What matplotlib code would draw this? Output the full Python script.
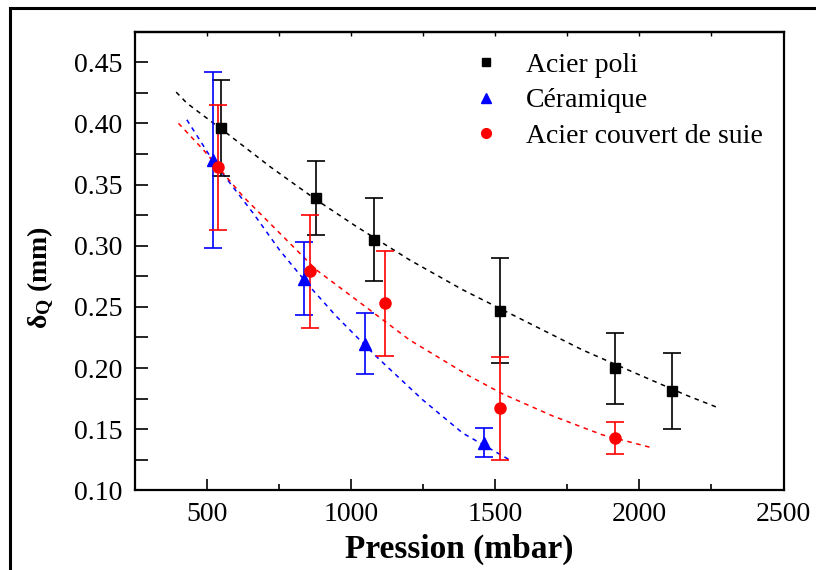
import matplotlib
matplotlib.use('Agg')
from matplotlib import pyplot as plt
from matplotlib.lines import Line2D
from matplotlib.patches import Rectangle

plt.rcParams['font.family'] = ['Liberation Serif', 'DejaVu Serif']
plt.rcParams['mathtext.fontset'] = 'custom'
plt.rcParams['mathtext.rm'] = 'Liberation Serif'
plt.rcParams['mathtext.bf'] = 'Liberation Serif:bold'
plt.rcParams['mathtext.it'] = 'Liberation Serif:italic'

# Acier poli (black squares)
poli_x = [547, 877, 1079, 1515, 1914, 2113]
poli_y = [0.396, 0.339, 0.305, 0.247, 0.200, 0.181]
poli_err = [0.039, 0.030, 0.034, 0.043, 0.029, 0.031]

# Ceramique (blue triangles)
cera_x = [522, 838, 1047, 1460]
cera_y = [0.370, 0.273, 0.220, 0.139]
cera_err = [0.072, 0.030, 0.025, 0.012]

# Acier couvert de suie (red circles)
suie_x = [537, 856, 1116, 1515, 1914]
suie_y = [0.364, 0.279, 0.253, 0.167, 0.143]
suie_err = [0.051, 0.046, 0.043, 0.042, 0.013]

# dashed fit curves
fit_poli_x = [393, 430, 568, 718, 879, 1018, 1202, 1387, 1594, 1801, 1986, 2159, 2269]
fit_poli_y = [0.4255, 0.4165, 0.392, 0.3647, 0.3375, 0.3157, 0.2885, 0.264, 0.2395,
              0.215, 0.1959, 0.1782, 0.168]
fit_cera_x = [430, 522, 660, 753, 856, 949, 1087, 1248, 1387, 1549]
fit_cera_y = [0.4029, 0.3688, 0.3266, 0.296, 0.2667, 0.2422, 0.2095, 0.1741, 0.1469, 0.1251]
fit_suie_x = [401, 487, 626, 764, 879, 1064, 1202, 1410, 1525, 1698, 1871, 2050]
fit_suie_y = [0.400, 0.3784, 0.340, 0.3075, 0.2803, 0.2476, 0.2231, 0.1935, 0.179,
              0.161, 0.1455, 0.1345]

labels = ['Acier poli', 'Céramique', 'Acier couvert de suie']

fig = plt.figure(figsize=(8.16, 5.70), dpi=100)
ax = fig.add_axes([0.1654, 0.1395, 0.7948, 0.8052])

# fits
ax.plot(fit_poli_x, fit_poli_y, color='black', ls=(0, (3, 3)), lw=1.1)
ax.plot(fit_cera_x, fit_cera_y, color='blue', ls=(0, (3, 3)), lw=1.1)
ax.plot(fit_suie_x, fit_suie_y, color='red', ls=(0, (3, 3)), lw=1.1)

# data with error bars
ax.errorbar(poli_x, poli_y, yerr=poli_err, fmt='s', color='black', ms=7.5,
            capsize=6.5, elinewidth=1.2, capthick=1.2)
ax.errorbar(cera_x, cera_y, yerr=cera_err, fmt='^', color='blue', ms=8.5,
            capsize=6.5, elinewidth=1.2, capthick=1.2)
ax.errorbar(suie_x, suie_y, yerr=suie_err, fmt='o', color='red', ms=8,
            capsize=6.5, elinewidth=1.2, capthick=1.2)

ax.set_xlim(250, 2500)
ax.set_ylim(0.10, 0.475)
ax.set_xticks([500, 1000, 1500, 2000, 2500])
ax.set_xticks([750, 1250, 1750, 2250], minor=True)
ax.set_yticks([0.10, 0.15, 0.20, 0.25, 0.30, 0.35, 0.40, 0.45])
ax.set_yticks([0.125, 0.175, 0.225, 0.275, 0.325, 0.375, 0.425], minor=True)
ax.set_yticklabels(['%.2f' % v for v in ax.get_yticks()])

ax.tick_params(axis='both', which='major', direction='in', labelsize=20, width=1.2)
ax.tick_params(axis='x', which='major', length=8, pad=8)
ax.tick_params(axis='x', which='minor', direction='in', length=4, width=1.2)
ax.tick_params(axis='y', which='major', length=9, pad=9)
ax.tick_params(axis='y', which='minor', direction='in', length=9, width=1.2)
for sp in ax.spines.values():
    sp.set_linewidth(1.6)

# short ticks along the top
top = ax.secondary_xaxis('top')
top.set_xticks([500, 750, 1000, 1250, 1500, 1750, 2000, 2250])
top.tick_params(direction='in', length=3, width=1.0, labeltop=False)
top.spines['top'].set_linewidth(1.6)

ax.set_xlabel('Pression (mbar)', fontsize=24, fontweight='bold', labelpad=5)
ax.set_ylabel(r'δ$_{\mathbf{Q}}$ (mm)', fontsize=20, fontweight='bold')
ax.yaxis.set_label_coords(-0.121, 0.464)

# legend with markers only
handles = [Line2D([], [], ls='none', marker='s', color='black', ms=6),
           Line2D([], [], ls='none', marker='^', color='blue', ms=7),
           Line2D([], [], ls='none', marker='o', color='red', ms=7)]
ax.legend(handles, labels, loc='upper left', bbox_to_anchor=(0.481, 1.009),
          frameon=False, fontsize=20, handlelength=1.0, handletextpad=0.94,
          labelspacing=0.36)

# outer frame of the figure
fig.add_artist(Rectangle((10 / 816, -0.2), 2.0, 1.2 - 7.5 / 570,
                         transform=fig.transFigure, fill=False,
                         edgecolor='black', lw=2.2, clip_on=False))

fig.savefig('out.png', dpi=100)
